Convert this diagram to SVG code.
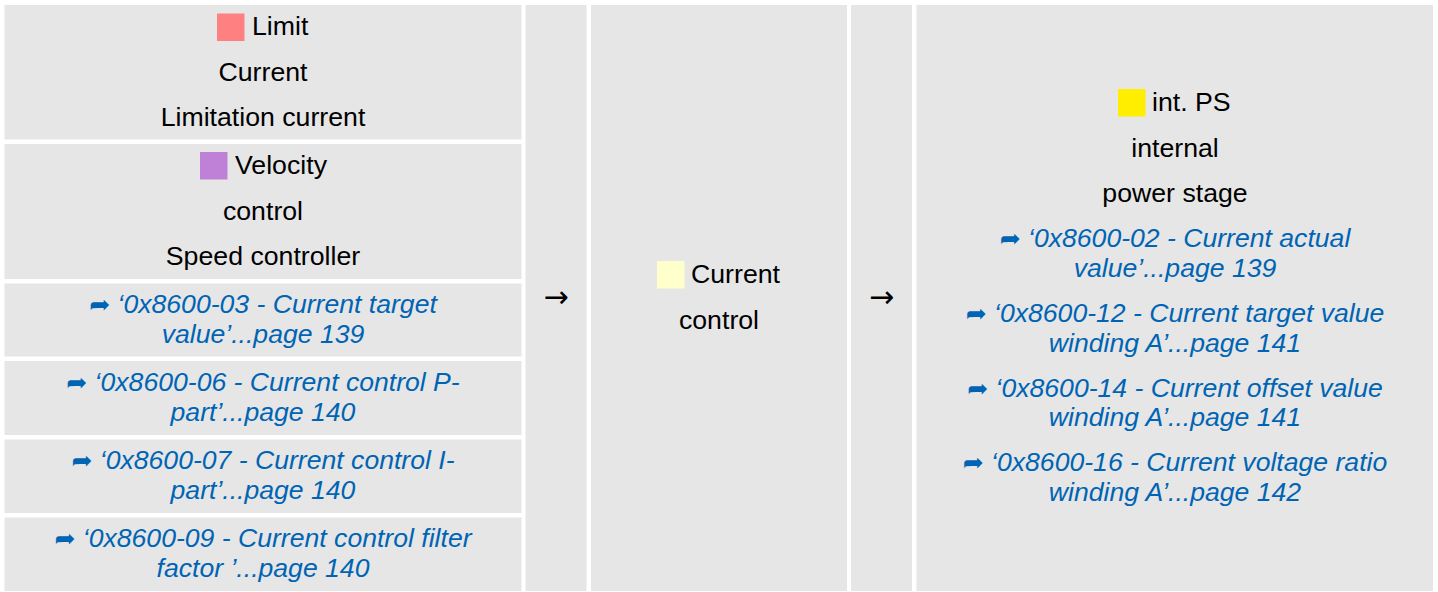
<svg xmlns="http://www.w3.org/2000/svg" width="1438" height="592" viewBox="0 0 1438 592">
<style>
.cell{fill:#e6e6e6}
.t{font-family:"Liberation Sans",Arial,sans-serif;font-size:26.7px;fill:#000}
.c{text-anchor:middle}
.l{font-family:"Liberation Sans",Arial,sans-serif;font-size:26.6px;font-style:italic;fill:#0064b4;text-anchor:middle}
.ar{font-family:"DejaVu Sans",sans-serif;font-style:normal;font-size:25px}
.conn{font-family:"DejaVu Sans","Liberation Sans",sans-serif;font-size:30px;fill:#000;text-anchor:middle}
</style>
<rect width="1438" height="592" fill="#ffffff"/>
<g id="limit">
<rect class="cell" x="4.5" y="5" width="517" height="134.5"/>
<rect x="217" y="13.5" width="27.5" height="27.5" fill="#ff8080"/>
<text class="t" x="252" y="35">Limit</text>
<text class="t c" x="263" y="80.5">Current</text>
<text class="t c" x="263" y="126">Limitation current</text>
</g>
<g id="velocity">
<rect class="cell" x="4.5" y="144" width="517" height="135"/>
<rect x="200" y="152" width="27.5" height="27.5" fill="#bf80d8"/>
<text class="t" x="235" y="174">Velocity</text>
<text class="t c" x="263" y="219.5">control</text>
<text class="t c" x="263" y="265">Speed controller</text>
</g>
<g id="ref03">
<rect class="cell" x="4.5" y="283.5" width="517" height="73"/>
<text class="l" x="263" y="313"><tspan class="ar">➦</tspan> ‘0x8600-03 - Current target</text>
<text class="l" x="263" y="342.5">value’...page 139</text>
</g>
<g id="ref06">
<rect class="cell" x="4.5" y="361" width="517" height="74"/>
<text class="l" x="263" y="391"><tspan class="ar">➦</tspan> ‘0x8600-06 - Current control P-</text>
<text class="l" x="263" y="420.5">part’...page 140</text>
</g>
<g id="ref07">
<rect class="cell" x="4.5" y="439.5" width="517" height="73.5"/>
<text class="l" x="263" y="469"><tspan class="ar">➦</tspan> ‘0x8600-07 - Current control I-</text>
<text class="l" x="263" y="498.5">part’...page 140</text>
</g>
<g id="ref09">
<rect class="cell" x="4.5" y="517.5" width="517" height="73.5"/>
<text class="l" x="263" y="547"><tspan class="ar">➦</tspan> ‘0x8600-09 - Current control filter</text>
<text class="l" x="263" y="576.5">factor ’...page 140</text>
</g>
<g id="connectors">
<rect class="cell" x="525.5" y="5" width="61" height="586"/>
<text class="conn" x="556" y="307">→</text>
<rect class="cell" x="851" y="5" width="61" height="586"/>
<text class="conn" x="881.5" y="307">→</text>
</g>
<g id="current-control">
<rect class="cell" x="591" y="5" width="256" height="586"/>
<rect x="657" y="261" width="27.5" height="27.5" fill="#ffffcc"/>
<text class="t" x="691" y="283">Current</text>
<text class="t c" x="719" y="328.5">control</text>
</g>
<g id="int-ps">
<rect class="cell" x="916.5" y="5" width="516.5" height="586"/>
<rect x="1118" y="89" width="27.5" height="27.5" fill="#ffee00"/>
<text class="t" x="1152" y="111">int. PS</text>
<text class="t c" x="1175" y="156.5">internal</text>
<text class="t c" x="1175" y="202">power stage</text>
<text class="l" x="1175" y="247"><tspan class="ar">➦</tspan> ‘0x8600-02 - Current actual</text>
<text class="l" x="1175" y="276.5">value’...page 139</text>
<text class="l" x="1175" y="322"><tspan class="ar">➦</tspan> ‘0x8600-12 - Current target value</text>
<text class="l" x="1175" y="351.5">winding A’...page 141</text>
<text class="l" x="1175" y="396.5"><tspan class="ar">➦</tspan> ‘0x8600-14 - Current offset value</text>
<text class="l" x="1175" y="426">winding A’...page 141</text>
<text class="l" x="1175" y="471"><tspan class="ar">➦</tspan> ‘0x8600-16 - Current voltage ratio</text>
<text class="l" x="1175" y="500.5">winding A’...page 142</text>
</g>
</svg>
